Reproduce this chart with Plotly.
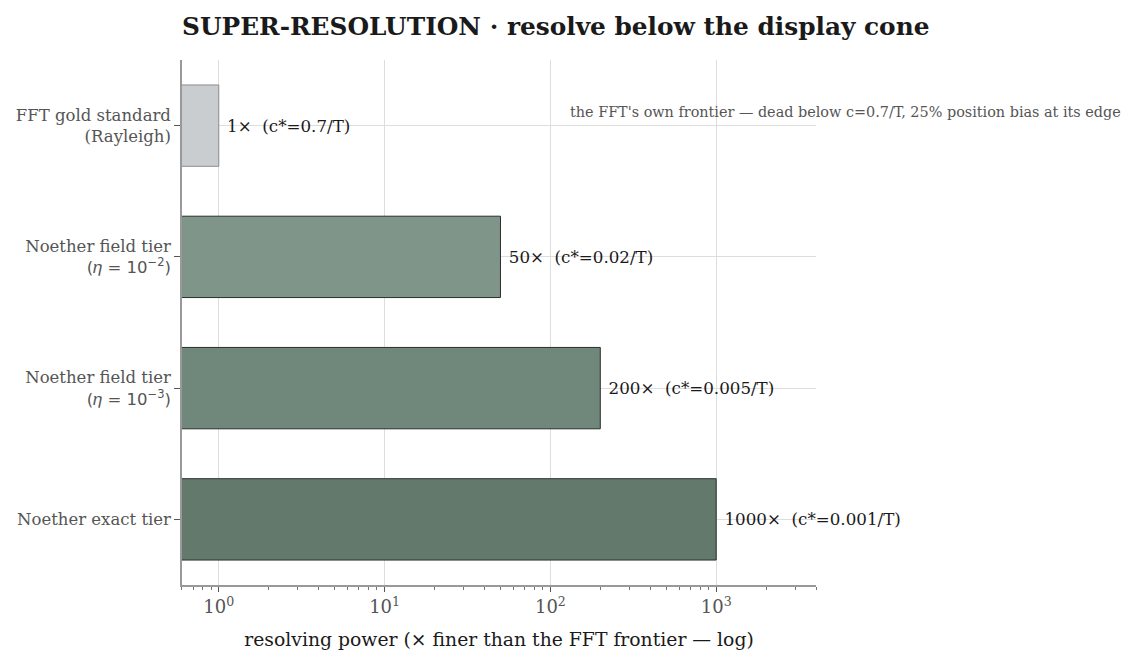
import plotly.graph_objects as go

SUB = "<span style=\"font-family:'DejaVu Sans';font-size:16.5px\">(𝜂 = 10<sup>−{}</sup>)</span>"
categories = [
    "FFT gold standard<br>(Rayleigh)",
    "Noether field tier<br>" + SUB.format(2),
    "Noether field tier<br>" + SUB.format(3),
    "Noether exact tier",
]
values = [1, 50, 200, 1000]
labels = ["1×  (c*=0.7/T)", "50×  (c*=0.02/T)", "200×  (c*=0.005/T)", "1000×  (c*=0.001/T)"]
fill_colors = ["#c9cdd0", "#80958a", "#70877b", "#62796c"]
line_colors = ["#8a8d90", "#2b2f2c", "#2b2f2c", "#2b2f2c"]
tick_vals = [1, 10, 100, 1000]
tick_text = ["10<sup>0</sup>", "10<sup>1</sup>", "10<sup>2</sup>", "10<sup>3</sup>"]

FONT = "Georgia, 'DejaVu Serif', serif"

fig = go.Figure(go.Bar(
    y=categories,
    x=values,
    orientation="h",
    width=0.62,
    marker=dict(color=fill_colors, line=dict(color=line_colors, width=1)),
    text=[" " + t for t in labels],
    textposition="outside",
    textfont=dict(family=FONT, size=16.7, color="#1a1a1a"),
    cliponaxis=False,
))

fig.add_annotation(
    text="the FFT's own frontier — dead below c=0.7/T, 25% position bias at its edge",
    xref="paper", yref="paper", x=1.484, y=0.90,
    xanchor="right", yanchor="middle", showarrow=False,
    font=dict(family=FONT, size=14.4, color="#555555"),
)

fig.update_layout(
    width=1138, height=667,
    margin=dict(l=182, r=322, t=60, b=82),
    plot_bgcolor="white", paper_bgcolor="white",
    font=dict(family=FONT, color="#555555"),
    title=dict(text="<b>SUPER-RESOLUTION · resolve below the display cone</b>",
               x=182/1138, xanchor="left", y=0.96, yanchor="middle",
               font=dict(family=FONT, size=24.8, color="#1a1a1a")),
    showlegend=False,
)
fig.update_xaxes(
    type="log", range=[-0.2218, 3.602],
    tickvals=tick_vals, ticktext=tick_text,
    showgrid=True, gridcolor="#dddddd", gridwidth=1,
    showline=True, linecolor="#999999", linewidth=1.5,
    ticks="outside", ticklen=5, tickcolor="#555555",
    minor=dict(ticks="outside", ticklen=3, tickcolor="#777777", showgrid=False,
               tickvals=[v * m for v in [0.1, 1, 10, 100, 1000] for m in range(2, 10)]),
    tickfont=dict(family=FONT, size=18, color="#555555"),
    title=dict(text="resolving power (× finer than the FFT frontier — log)",
               font=dict(family=FONT, size=18.8, color="#1a1a1a"), standoff=16),
    zeroline=False,
)
fig.update_yaxes(
    categoryorder="array", categoryarray=categories[::-1],
    showgrid=True, gridcolor="#dddddd",
    showline=True, linecolor="#999999", linewidth=1.5,
    ticks="outside", ticklen=6, tickcolor="#555555",
    tickfont=dict(family=FONT, size=16.5, color="#555555"),
)

fig.write_html("out.html")
